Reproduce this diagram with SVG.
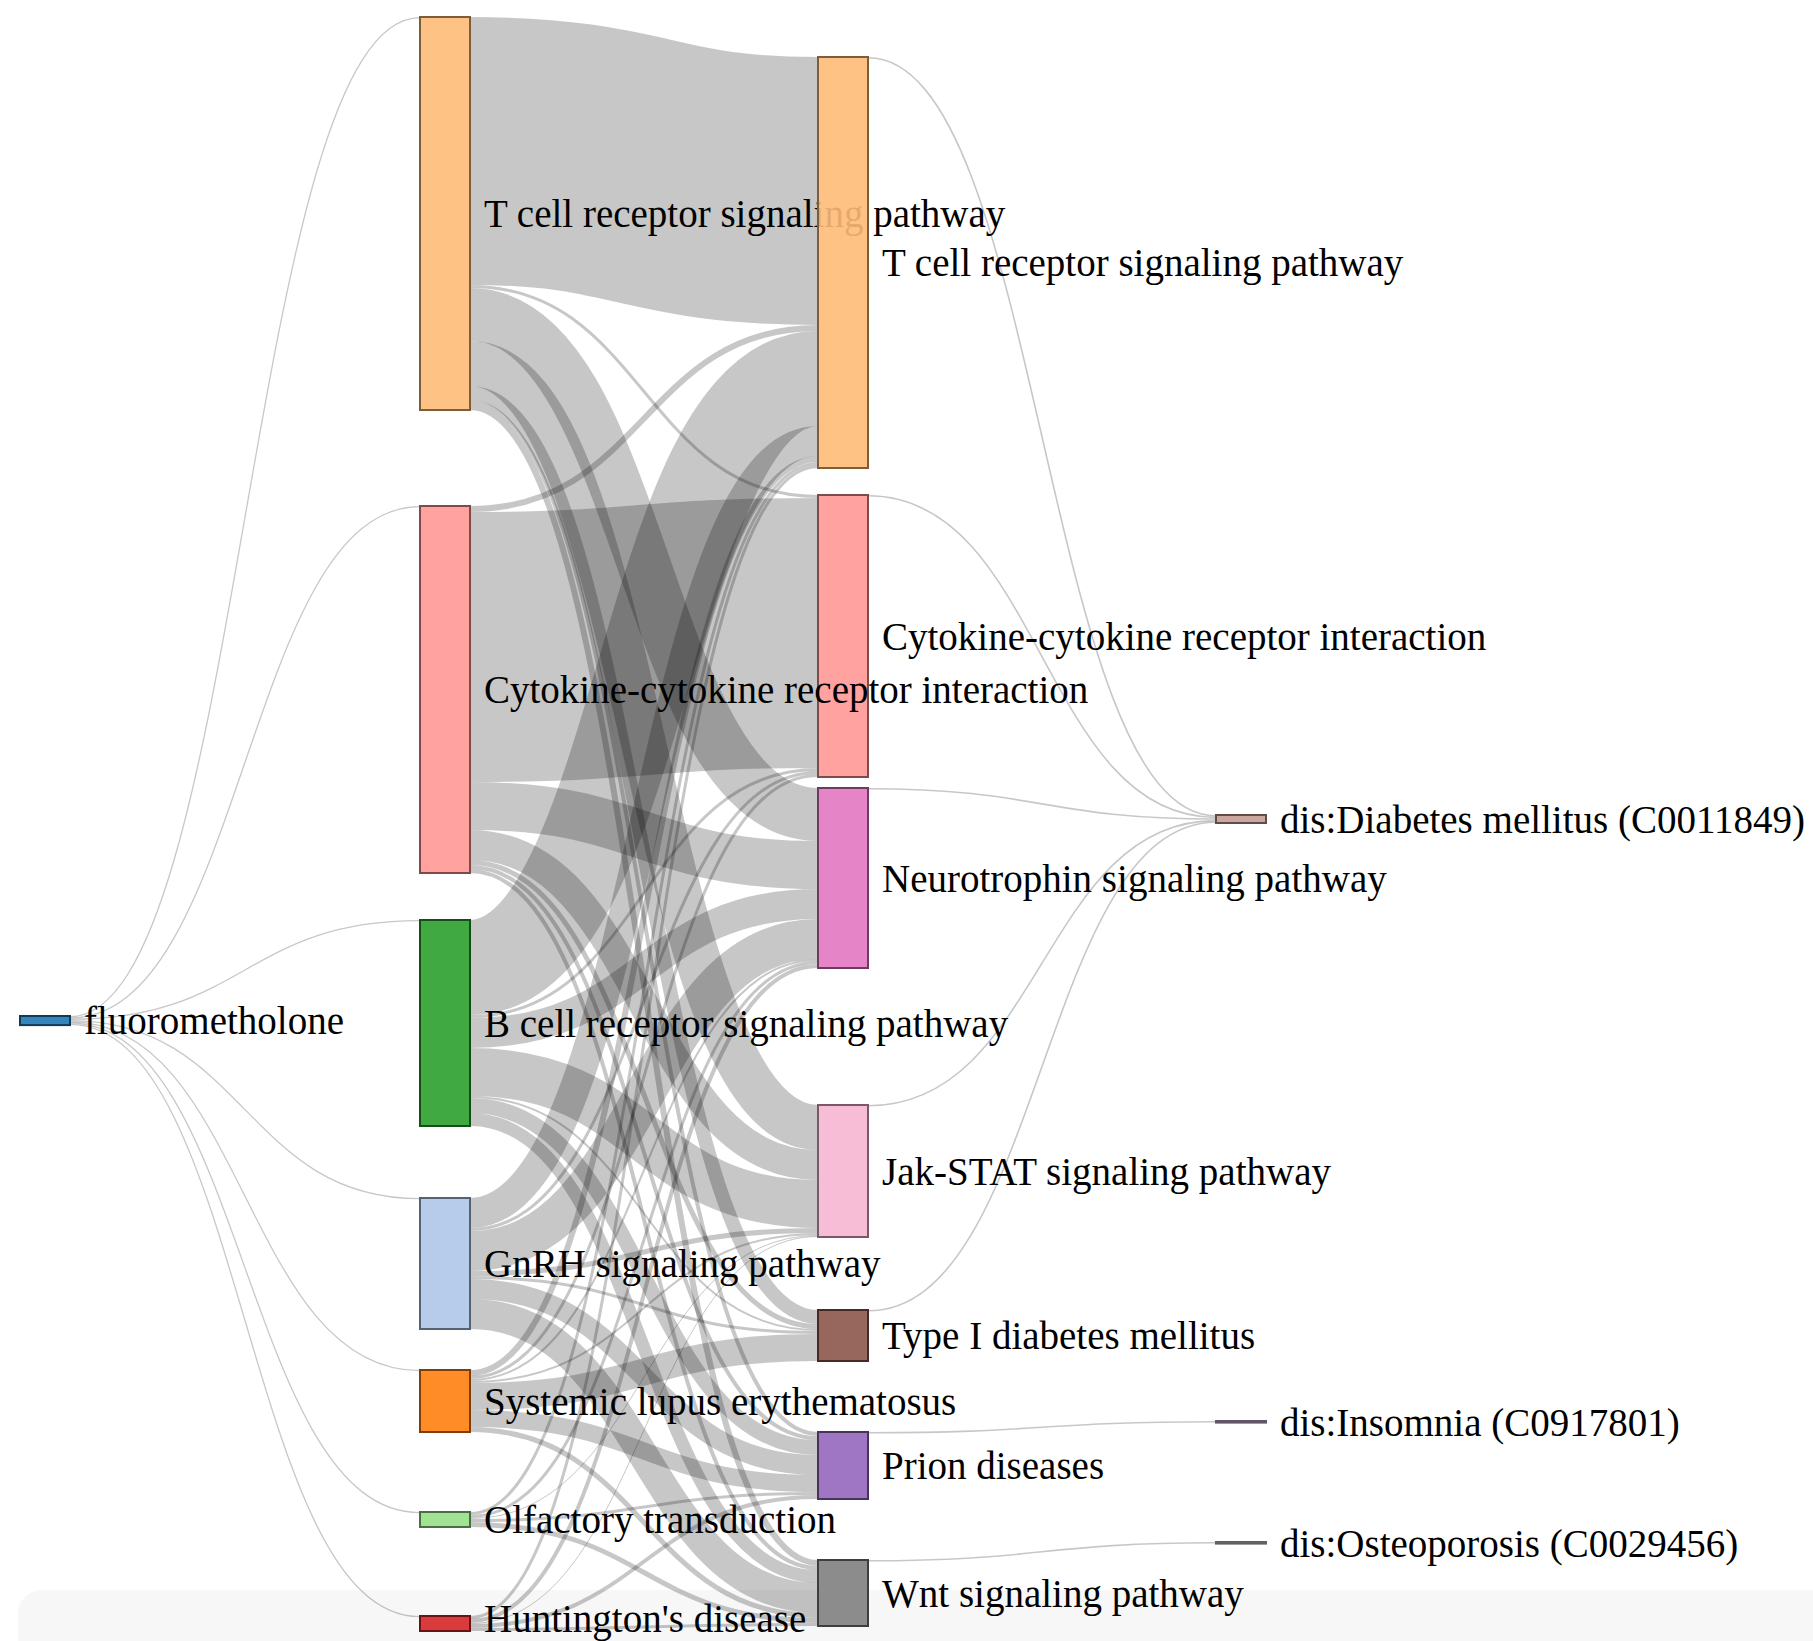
<svg xmlns="http://www.w3.org/2000/svg" width="1813" height="1641" viewBox="0 0 1813 1641">
<style>
.link{fill:none;stroke:#000;stroke-opacity:.22}
.node rect{fill-opacity:.9;stroke-width:2}
.node text{font-family:"Liberation Serif","Times New Roman",serif;font-size:39px;fill:#000}
</style>
<rect x="0" y="0" width="1813" height="1641" fill="#fff"/>
<rect x="18" y="1590" width="1820" height="80" rx="24" fill="#f7f7f7"/>
<g id="links">
<path class="link" stroke-width="1.3" d="M70,1016.65C245,1016.65 245,17.65 420,17.65"/>
<path class="link" stroke-width="1.3" d="M70,1017.95C245,1017.95 245,506.65 420,506.65"/>
<path class="link" stroke-width="1.3" d="M70,1019.25C245,1019.25 245,920.65 420,920.65"/>
<path class="link" stroke-width="1.3" d="M70,1020.55C245,1020.55 245,1198.65 420,1198.65"/>
<path class="link" stroke-width="1.3" d="M70,1021.85C245,1021.85 245,1370.65 420,1370.65"/>
<path class="link" stroke-width="1.3" d="M70,1023.15C245,1023.15 245,1512.65 420,1512.65"/>
<path class="link" stroke-width="1.3" d="M70,1024.45C245,1024.45 245,1616.65 420,1616.65"/>
<path class="link" stroke-width="268" d="M470,151C644,151 644,191 818,191"/>
<path class="link" stroke-width="3" d="M470,286.5C644,286.5 644,496.5 818,496.5"/>
<path class="link" stroke-width="53" d="M470,314.5C644,314.5 644,814.5 818,814.5"/>
<path class="link" stroke-width="45" d="M470,363.5C644,363.5 644,1127.5 818,1127.5"/>
<path class="link" stroke-width="14" d="M470,393C644,393 644,1317 818,1317"/>
<path class="link" stroke-width="4" d="M470,402C644,402 644,1434 818,1434"/>
<path class="link" stroke-width="6" d="M470,407C644,407 644,1563 818,1563"/>
<path class="link" stroke-width="6" d="M470,509C644,509 644,328 818,328"/>
<path class="link" stroke-width="270" d="M470,647C644,647 644,633 818,633"/>
<path class="link" stroke-width="48" d="M470,806C644,806 644,865 818,865"/>
<path class="link" stroke-width="30" d="M470,845C644,845 644,1165 818,1165"/>
<path class="link" stroke-width="5" d="M470,862.5C644,862.5 644,1326.5 818,1326.5"/>
<path class="link" stroke-width="4" d="M470,867C644,867 644,1438 818,1438"/>
<path class="link" stroke-width="4" d="M470,871C644,871 644,1568 818,1568"/>
<path class="link" stroke-width="95" d="M470,967.5C644,967.5 644,378.5 818,378.5"/>
<path class="link" stroke-width="3" d="M470,1016.5C644,1016.5 644,769.5 818,769.5"/>
<path class="link" stroke-width="30" d="M470,1033C644,1033 644,904 818,904"/>
<path class="link" stroke-width="48" d="M470,1072C644,1072 644,1204 818,1204"/>
<path class="link" stroke-width="2" d="M470,1097C644,1097 644,1330 818,1330"/>
<path class="link" stroke-width="15" d="M470,1105.5C644,1105.5 644,1447.5 818,1447.5"/>
<path class="link" stroke-width="13" d="M470,1119.5C644,1119.5 644,1576.5 818,1576.5"/>
<path class="link" stroke-width="30" d="M470,1213C644,1213 644,441 818,441"/>
<path class="link" stroke-width="3" d="M470,1229.5C644,1229.5 644,772.5 818,772.5"/>
<path class="link" stroke-width="40" d="M470,1251C644,1251 644,939 818,939"/>
<path class="link" stroke-width="5" d="M470,1273.5C644,1273.5 644,1230.5 818,1230.5"/>
<path class="link" stroke-width="3" d="M470,1277.5C644,1277.5 644,1332.5 818,1332.5"/>
<path class="link" stroke-width="20" d="M470,1289C644,1289 644,1465 818,1465"/>
<path class="link" stroke-width="30" d="M470,1314C644,1314 644,1598 818,1598"/>
<path class="link" stroke-width="6" d="M470,1373C644,1373 644,459 818,459"/>
<path class="link" stroke-width="3" d="M470,1377.5C644,1377.5 644,775.5 818,775.5"/>
<path class="link" stroke-width="2" d="M470,1380C644,1380 644,960 818,960"/>
<path class="link" stroke-width="2" d="M470,1382C644,1382 644,1234 818,1234"/>
<path class="link" stroke-width="27" d="M470,1396.5C644,1396.5 644,1347.5 818,1347.5"/>
<path class="link" stroke-width="17" d="M470,1418.5C644,1418.5 644,1483.5 818,1483.5"/>
<path class="link" stroke-width="5" d="M470,1429.5C644,1429.5 644,1615.5 818,1615.5"/>
<path class="link" stroke-width="3" d="M470,1513.5C644,1513.5 644,463.5 818,463.5"/>
<path class="link" stroke-width="3" d="M470,1516.5C644,1516.5 644,962.5 818,962.5"/>
<path class="link" stroke-width="1" d="M470,1518.5C644,1518.5 644,1235.5 818,1235.5"/>
<path class="link" stroke-width="3" d="M470,1520.5C644,1520.5 644,1493.5 818,1493.5"/>
<path class="link" stroke-width="5" d="M470,1524.5C644,1524.5 644,1620.5 818,1620.5"/>
<path class="link" stroke-width="3" d="M470,1617.5C644,1617.5 644,466.5 818,466.5"/>
<path class="link" stroke-width="4" d="M470,1621C644,1621 644,966 818,966"/>
<path class="link" stroke-width="1" d="M470,1623.5C644,1623.5 644,1236.5 818,1236.5"/>
<path class="link" stroke-width="4" d="M470,1626C644,1626 644,1497 818,1497"/>
<path class="link" stroke-width="3" d="M470,1629.5C644,1629.5 644,1624.5 818,1624.5"/>
<path class="link" stroke-width="1.6" d="M868,57.8C1042,57.8 1042,815.8 1216,815.8"/>
<path class="link" stroke-width="1.6" d="M868,495.8C1042,495.8 1042,817.4 1216,817.4"/>
<path class="link" stroke-width="1.6" d="M868,788.8C1042,788.8 1042,819 1216,819"/>
<path class="link" stroke-width="1.6" d="M868,1105.8C1042,1105.8 1042,820.6 1216,820.6"/>
<path class="link" stroke-width="1.6" d="M868,1310.8C1042,1310.8 1042,822.2 1216,822.2"/>
<path class="link" stroke-width="1.6" d="M868,1432.8C1042,1432.8 1042,1421.8 1216,1421.8"/>
<path class="link" stroke-width="1.6" d="M868,1560.8C1042,1560.8 1042,1542.8 1216,1542.8"/>
</g>
<g id="nodes">
<g class="node" id="n-fluorometholone"><rect x="20" y="1016" width="50" height="9.1" fill="#1f77b4" stroke="#0f3a58"/><text x="84" y="1034">fluorometholone</text></g>
<g class="node" id="n-cytokine-m"><rect x="818" y="495" width="50" height="282" fill="#ff9896" stroke="#7d4b4a"/><text x="882" y="649.6">Cytokine-cytokine receptor interaction</text></g>
<g class="node" id="n-tcell-l"><rect x="420" y="17" width="50" height="393" fill="#ffbb78" stroke="#7d5c3b"/><text x="484" y="227">T cell receptor signaling pathway</text></g>
<g class="node" id="n-cytokine-l"><rect x="420" y="506" width="50" height="367" fill="#ff9896" stroke="#7d4b4a"/><text x="484" y="703">Cytokine-cytokine receptor interaction</text></g>
<g class="node" id="n-bcell-l"><rect x="420" y="920" width="50" height="206" fill="#2ca02c" stroke="#164e16"/><text x="484" y="1036.6">B cell receptor signaling pathway</text></g>
<g class="node" id="n-gnrh-l"><rect x="420" y="1198" width="50" height="131" fill="#aec7e8" stroke="#556272"/><text x="484" y="1277">GnRH signaling pathway</text></g>
<g class="node" id="n-sle-l"><rect x="420" y="1370" width="50" height="62" fill="#ff7f0e" stroke="#7d3e07"/><text x="484" y="1414.6">Systemic lupus erythematosus</text></g>
<g class="node" id="n-olfactory-l"><rect x="420" y="1512" width="50" height="15" fill="#98df8a" stroke="#4b6d44"/><text x="484" y="1533">Olfactory transduction</text></g>
<g class="node" id="n-huntington-l"><rect x="420" y="1616" width="50" height="15" fill="#d62728" stroke="#691314"/><text x="484" y="1632">Huntington's disease</text></g>
<g class="node" id="n-tcell-m"><rect x="818" y="57" width="50" height="411" fill="#ffbb78" stroke="#7d5c3b"/><text x="882" y="276">T cell receptor signaling pathway</text></g>
<g class="node" id="n-neurotrophin-m"><rect x="818" y="788" width="50" height="180" fill="#e377c2" stroke="#6f3a5f"/><text x="882" y="891.6">Neurotrophin signaling pathway</text></g>
<g class="node" id="n-jakstat-m"><rect x="818" y="1105" width="50" height="132" fill="#f7b6d2" stroke="#795967"/><text x="882" y="1184.6">Jak-STAT signaling pathway</text></g>
<g class="node" id="n-type1-m"><rect x="818" y="1310" width="50" height="51" fill="#8c564b" stroke="#452a25"/><text x="882" y="1349">Type I diabetes mellitus</text></g>
<g class="node" id="n-prion-m"><rect x="818" y="1432" width="50" height="67" fill="#9467bd" stroke="#49335d"/><text x="882" y="1479">Prion diseases</text></g>
<g class="node" id="n-wnt-m"><rect x="818" y="1560" width="50" height="66" fill="#7f7f7f" stroke="#3e3e3e"/><text x="882" y="1606.6">Wnt signaling pathway</text></g>
<g class="node" id="n-diabetes"><rect x="1216" y="815" width="50" height="8" fill="#c49c94" stroke="#604d49"/><text x="1280" y="832.7">dis:Diabetes mellitus (C0011849)</text></g>
<g class="node" id="n-insomnia"><rect x="1216" y="1421" width="50" height="1.6" fill="#c5b0d5" stroke="#615668"/><text x="1280" y="1435.6">dis:Insomnia (C0917801)</text></g>
<g class="node" id="n-osteoporosis"><rect x="1216" y="1542" width="50" height="1.6" fill="#c7c7c7" stroke="#626262"/><text x="1280" y="1556.6">dis:Osteoporosis (C0029456)</text></g>
</g>
</svg>
